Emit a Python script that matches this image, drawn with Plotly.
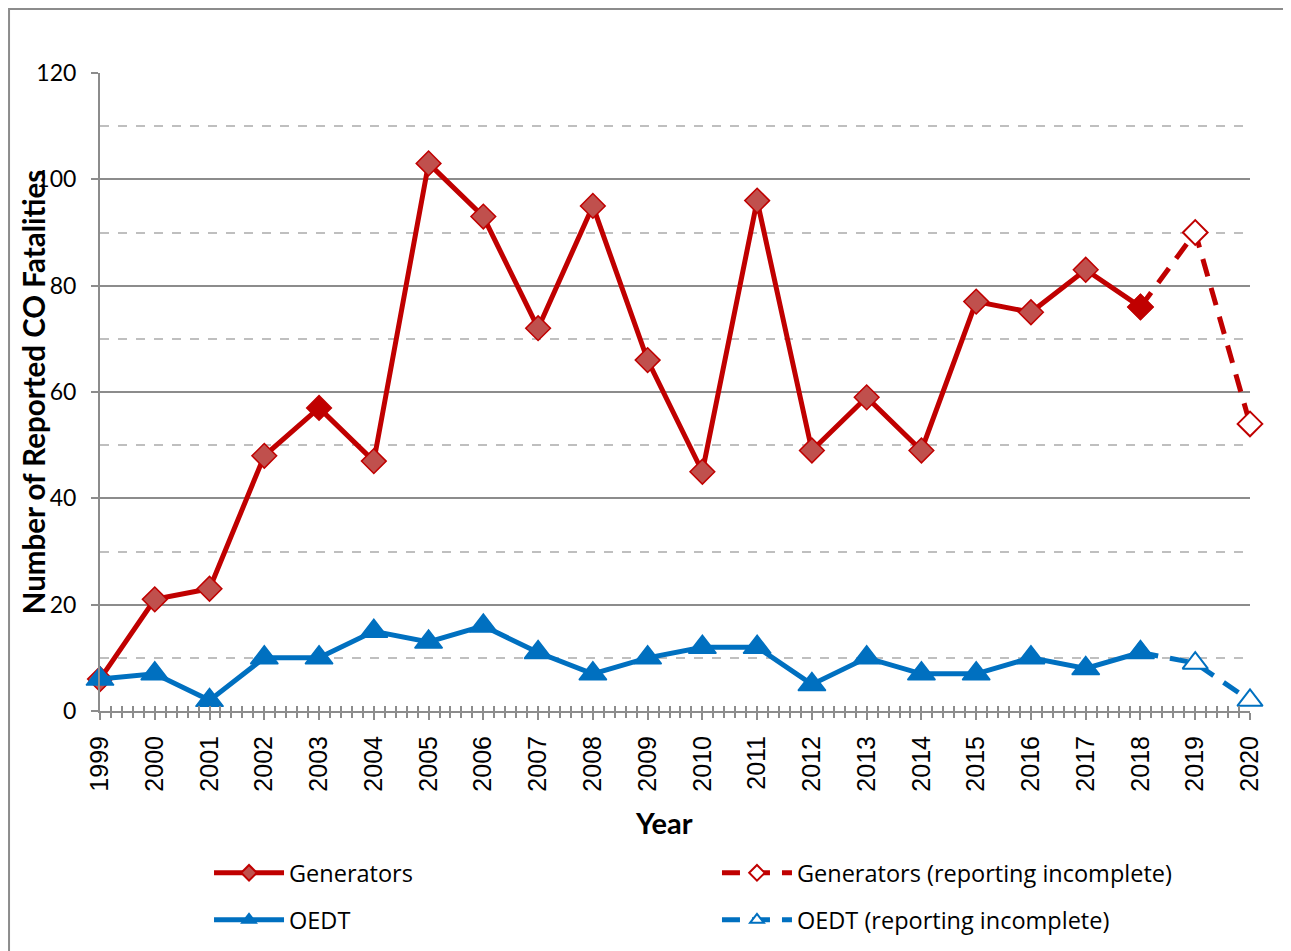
import plotly.graph_objects as go

years = list(range(1999, 2021))
gen_years = list(range(1999, 2019))
gen_vals = [6, 21, 23, 48, 57, 47, 103, 93, 72, 95, 66, 45, 96, 49, 59, 49, 77, 75, 83, 76]
gen_inc_years = [2018, 2019, 2020]
gen_inc_vals = [76, 90, 54]
oedt_years = list(range(1999, 2019))
oedt_vals = [6, 7, 2, 10, 10, 15, 13, 16, 11, 7, 10, 12, 12, 5, 10, 7, 7, 10, 8, 11]
oedt_inc_years = [2018, 2019, 2020]
oedt_inc_vals = [11, 9, 2]
dark_gen_years = [2003, 2018]
y_ticks = [0, 20, 40, 60, 80, 100, 120]

RED = "#C00000"
RED_FILL = "#C0504D"
BLUE = "#0070C0"
GRID = "#8C8C8C"

gen_fill = [RED if y in dark_gen_years else RED_FILL for y in gen_years]

fig = go.Figure()

fig.add_trace(go.Scatter(
    x=gen_inc_years, y=gen_inc_vals, name="Generators (reporting incomplete)",
    mode="lines+markers", cliponaxis=False, legend="legend2",
    line=dict(color=RED, width=5, dash="18px,12px"),
    marker=dict(symbol="diamond", size=19, color="white", line=dict(color=RED, width=2)),
))
fig.add_trace(go.Scatter(
    x=gen_years, y=gen_vals, name="Generators",
    mode="lines+markers", cliponaxis=False, legend="legend",
    line=dict(color=RED, width=5),
    marker=dict(symbol="diamond", size=19, color=gen_fill, line=dict(color=RED, width=1.5)),
))
fig.add_trace(go.Scatter(
    x=oedt_inc_years, y=oedt_inc_vals, name="OEDT (reporting incomplete)",
    mode="lines+markers", cliponaxis=False, legend="legend4",
    line=dict(color=BLUE, width=5, dash="18px,12px"),
    marker=dict(symbol="triangle-up", size=22, color="white", line=dict(color=BLUE, width=2)),
))
fig.add_trace(go.Scatter(
    x=oedt_years, y=oedt_vals, name="OEDT",
    mode="lines+markers", cliponaxis=False, legend="legend3",
    line=dict(color=BLUE, width=5),
    marker=dict(symbol="triangle-up", size=24, color=BLUE, line=dict(color=BLUE, width=1.5)),
))

# invisible trace on overlaid axis to render crossing ticks
fig.add_trace(go.Scatter(x=[years[0], years[-1]], y=[0, 0], xaxis="x2", mode="lines",
                         line=dict(width=0), showlegend=False, hoverinfo="skip"))

def leg(x, y):
    return dict(
        x=x, y=y, xanchor="left", yanchor="middle", orientation="h",
        font=dict(family="Open Sans", size=23.5, color="black"),
        itemwidth=70, bgcolor="rgba(0,0,0,0)", itemsizing="constant",
    )

COL1, COL2 = 0.0948, 0.5365
ROW1, ROW2 = -0.254, -0.3276

fig.update_layout(
    width=1283, height=943,
    margin=dict(l=92, r=41, t=65, b=240, autoexpand=False),
    paper_bgcolor="white", plot_bgcolor="white",
    showlegend=True,
    legend=leg(COL1, ROW1),
    legend2=leg(COL2, ROW1),
    legend3=leg(COL1, ROW2),
    legend4=leg(COL2, ROW2),
    xaxis=dict(
        range=[years[0], years[-1]], tickmode="array", tickvals=years,
        ticktext=[str(y) for y in years], tickangle=-90,
        tickfont=dict(family="Liberation Sans", size=25, color="black"),
        ticks="outside", ticklen=7, tickwidth=2, tickcolor=GRID,
        minor=dict(dtick=0.2, tick0=years[0], ticks="outside", ticklen=5, tickwidth=2, tickcolor=GRID),
        showline=True, linecolor=GRID, linewidth=2, showgrid=False, zeroline=False,
        ticklabelstandoff=6,
    ),
    xaxis2=dict(
        overlaying="x", matches="x", anchor="y", showticklabels=False,
        ticks="inside", ticklen=5, tickwidth=2, tickcolor=GRID,
        tickmode="array", tickvals=years,
        minor=dict(dtick=0.2, tick0=years[0], ticks="inside", ticklen=5, tickwidth=2, tickcolor=GRID),
        showline=False, showgrid=False, zeroline=False,
    ),
    yaxis=dict(
        range=[0, 120], tickmode="array", tickvals=y_ticks,
        tickfont=dict(family="Lato", size=23, color="black"),
        ticks="outside", ticklen=7, tickwidth=2, tickcolor=GRID,
        showline=True, linecolor=GRID, linewidth=2,
        showgrid=True, gridcolor=GRID, gridwidth=1.5, zeroline=False,
        minor=dict(dtick=10, tick0=0, showgrid=True, gridcolor="#BFBFBF", griddash="dash", gridwidth=1.5),
        ticklabelstandoff=10,
    ),
    annotations=[
        dict(text="<b>Number of Reported CO Fatalities</b>", textangle=-90,
             x=-0.058, y=0.5, xref="paper", yref="paper", showarrow=False,
             xanchor="center", yanchor="middle",
             font=dict(family="Lato", size=29.5, color="black")),
        dict(text="<b>Year</b>", x=0.4904, y=-0.1755, xref="paper", yref="paper",
             xanchor="center", yanchor="middle",
             showarrow=False, font=dict(family="Lato", size=29, color="black")),
    ],
    shapes=[
        dict(type="rect", xref="paper", yref="paper", x0=-0.0791, y0=-0.5, x1=1.2, y1=1.1003,
             line=dict(color=GRID, width=2), fillcolor="rgba(0,0,0,0)", layer="below"),
    ],
)

fig.write_html("out.html")
